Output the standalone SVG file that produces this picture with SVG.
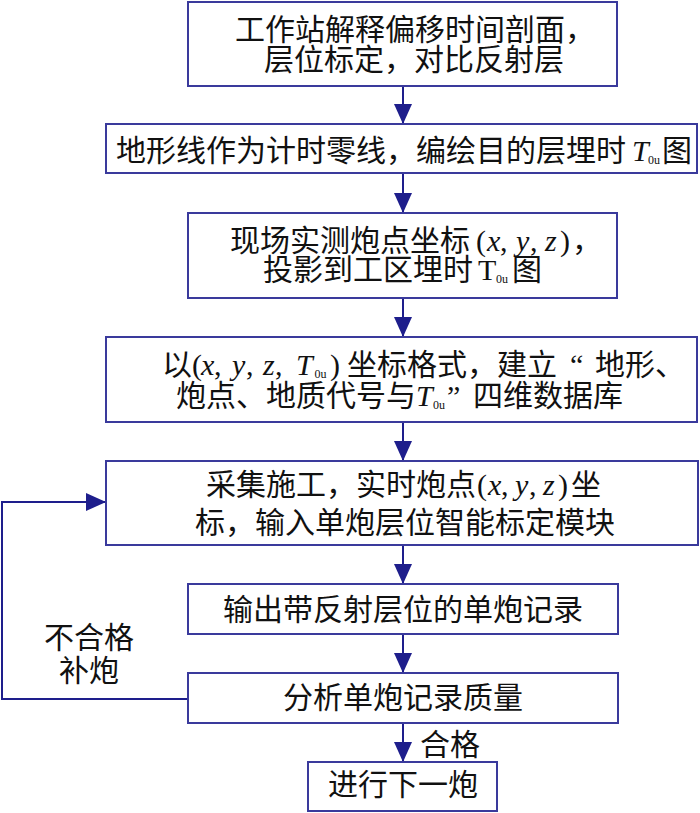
<svg xmlns="http://www.w3.org/2000/svg" width="700" height="813" viewBox="0 0 700 813">
<style>
.box{fill:#fff;stroke:#3a3a9c;stroke-width:2}
.cn{font-family:"Noto Sans CJK SC","Noto Sans CJK TC",sans-serif;font-size:30px;fill:#111}
.lt{font-family:"Liberation Serif",serif;font-size:30px;font-style:normal}
.it{font-family:"Liberation Serif",serif;font-size:30px;font-style:italic}
.sub{font-family:"Liberation Serif",serif;font-size:12px;font-style:normal}
.ln{fill:none;stroke:#1e1e8c;stroke-width:2}
</style>
<defs>
<marker id="ah" markerUnits="userSpaceOnUse" markerWidth="20" markerHeight="18" refX="20" refY="9" orient="auto">
<path d="M0,0 L20,9 L0,18 z" fill="#1e1e8c"/>
</marker>
</defs>
<rect width="700" height="813" fill="#fff"/>
<g id="connectors">
<line class="ln" x1="403" y1="86" x2="403" y2="124" marker-end="url(#ah)"/>
<line class="ln" x1="403" y1="173" x2="403" y2="213" marker-end="url(#ah)"/>
<line class="ln" x1="403" y1="298" x2="403" y2="337" marker-end="url(#ah)"/>
<line class="ln" x1="403" y1="422" x2="403" y2="461" marker-end="url(#ah)"/>
<line class="ln" x1="403" y1="545" x2="403" y2="584" marker-end="url(#ah)"/>
<line class="ln" x1="403" y1="634" x2="403" y2="673" marker-end="url(#ah)"/>
<line class="ln" x1="403" y1="723" x2="403" y2="762" marker-end="url(#ah)"/>
<polyline class="ln" points="188,699 2,699 2,502 106,502" marker-end="url(#ah)"/>
<text class="cn" x="420" y="755">合格</text>
<text class="cn" x="89" y="648" text-anchor="middle">不合格</text>
<text class="cn" x="89" y="681" text-anchor="middle">补炮</text>
</g>
<g id="n1">
<rect class="box" x="188" y="2" width="429" height="84"/>
<text class="cn" x="235" y="40">工作站解释偏移时间剖面，</text>
<text class="cn" x="264" y="70">层位标定，对比反射层</text>
</g>
<g id="n2">
<rect class="box" x="106" y="124" width="591" height="49"/>
<text class="cn" y="161"><tspan x="116">地形线作为计时零线，编绘目的层埋时</tspan><tspan class="it" x="632">T</tspan><tspan class="sub" x="648" y="164">0u</tspan><tspan x="662" y="161">图</tspan></text>
</g>
<g id="n3">
<rect class="box" x="188" y="213" width="429" height="85"/>
<text class="cn" y="251"><tspan x="230">现场实测炮点坐标</tspan><tspan class="lt" x="476">(</tspan><tspan class="it" x="487">x</tspan><tspan class="lt" x="500">,</tspan><tspan class="it" x="516">y</tspan><tspan class="lt" x="530">,</tspan><tspan class="it" x="545">z</tspan><tspan class="lt" x="560">)</tspan><tspan x="572">，</tspan></text>
<text class="cn" y="280"><tspan x="263">投影到工区埋时</tspan><tspan class="lt" x="478">T</tspan><tspan class="sub" x="496" y="283">0u</tspan><tspan x="512" y="280">图</tspan></text>
</g>
<g id="n4">
<rect class="box" x="106" y="337" width="591" height="85"/>
<text class="cn" y="375"><tspan x="162">以</tspan><tspan class="lt" x="192">(</tspan><tspan class="it" x="201">x</tspan><tspan class="lt" x="214">,</tspan><tspan class="it" x="232">y</tspan><tspan class="lt" x="246">,</tspan><tspan class="it" x="263">z</tspan><tspan class="lt" x="275">,</tspan><tspan class="it" x="296">T</tspan><tspan class="sub" x="314.5" y="378">0u</tspan><tspan class="lt" x="330" y="375">)</tspan><tspan x="347">坐标格式，建立</tspan><tspan class="lt" x="570">“</tspan><tspan x="595">地形、</tspan></text>
<text class="cn" y="406"><tspan x="176">炮点、地质代号与</tspan><tspan class="it" x="416">T</tspan><tspan class="sub" x="433" y="409">0u</tspan><tspan class="lt" x="447" y="406">”</tspan><tspan x="473">四维数据库</tspan></text>
</g>
<g id="n5">
<rect class="box" x="106" y="461" width="592" height="84"/>
<text class="cn" y="495"><tspan x="206">采集施工，实时炮点</tspan><tspan class="lt" x="477">(</tspan><tspan class="it" x="488">x</tspan><tspan class="lt" x="501">,</tspan><tspan class="it" x="515">y</tspan><tspan class="lt" x="529">,</tspan><tspan class="it" x="543">z</tspan><tspan class="lt" x="558">)</tspan><tspan x="571">坐</tspan></text>
<text class="cn" x="195" y="533">标，输入单炮层位智能标定模块</text>
</g>
<g id="n6">
<rect class="box" x="188" y="584" width="430" height="50"/>
<text class="cn" x="403" y="620" text-anchor="middle">输出带反射层位的单炮记录</text>
</g>
<g id="n7">
<rect class="box" x="188" y="673" width="430" height="50"/>
<text class="cn" x="403" y="708" text-anchor="middle">分析单炮记录质量</text>
</g>
<g id="n8">
<rect class="box" x="308" y="762" width="189" height="49"/>
<text class="cn" x="403" y="795" text-anchor="middle">进行下一炮</text>
</g>
</svg>
